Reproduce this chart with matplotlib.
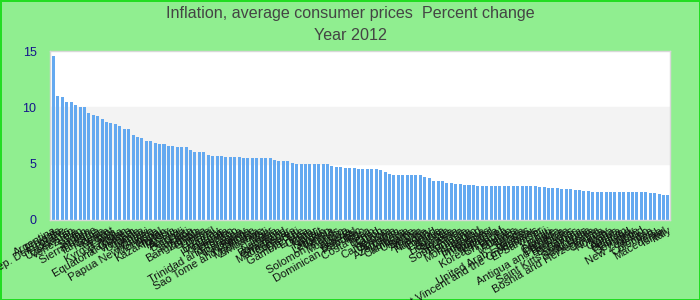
import numpy as np
import matplotlib
matplotlib.use("Agg")
import matplotlib.pyplot as plt

plt.rcParams['font.family'] = ['Liberation Sans', 'DejaVu Sans']

# datos (ordenados de mayor a menor)
paises = [
    "Argentina", "Ethiopia", "Congo, Rep. Dem. of the", "Belarus", "Uzbekistan",
    "Venezuela", "Iran", "Sudan", "Yemen", "Sierra Leone",
    "Tanzania", "Nigeria", "Kenya", "Egypt", "Kyrgyz Rep.",
    "India", "Pakistan", "Equatorial Guinea", "Vietnam", "Uganda",
    "Ghana", "Malawi", "Papua New Guinea", "Mongolia", "Nepal",
    "Kazakhstan", "Turkey", "Russia", "Angola", "Burundi",
    "Haiti", "Jamaica", "Bangladesh", "Zambia", "Guinea",
    "Liberia", "Brazil", "Uruguay", "Honduras", "Rwanda",
    "Lesotho", "Trinidad and Tobago", "Nicaragua", "Paraguay", "Bolivia",
    "Sao Tome and Principe", "Mauritania", "Zimbabwe", "Mali", "Niger",
    "Namibia", "Botswana", "Swaziland", "Madagascar", "Comoros",
    "Djibouti", "Gambia, The", "Eritrea", "Oman", "Qatar",
    "Kuwait", "Jordan", "Lebanon", "Tunisia", "Solomon Islands",
    "Morocco", "Libya", "Algeria", "Senegal", "Dominican Republic",
    "Togo", "Costa Rica", "Benin", "Chad", "Gabon",
    "Cameroon", "Georgia", "Armenia", "Azerbaijan", "Moldova",
    "Cambodia", "Ukraine", "Serbia", "Albania", "Croatia",
    "Hungary", "Poland", "Estonia", "Latvia", "Lithuania",
    "Slovakia", "Slovenia", "South Africa", "Romania", "Bulgaria",
    "Montenegro", "Iceland", "Indonesia", "Philippines", "Thailand",
    "Malaysia", "Korea, Rep. of", "Sri Lanka", "Bhutan", "Maldives",
    "Tonga", "Samoa", "United Arab Emirates", "Vanuatu", "Saint Vincent and the Grenadines",
    "El Salvador", "Fiji", "Kiribati", "Belize", "Grenada",
    "Dominica", "Antigua and Barbuda", "Barbados", "Bahamas", "Guyana",
    "Saint Kitts and Nevis", "Saint Lucia", "Australia", "Bosnia and Herzegovina", "Canada",
    "Norway", "Malta", "Cyprus", "Austria", "Belgium",
    "Finland", "Germany", "Chile", "New Zealand", "Mexico",
    "Colombia", "Peru", "Macedonia", "Israel", "Italy",
]

inflacion = [
    14.54, 11.04, 10.95, 10.50, 10.50, 10.24, 10.06, 10.06, 9.53, 9.35,
    9.26, 8.99, 8.72, 8.64, 8.55, 8.37, 8.10, 8.10, 7.57, 7.39,
    7.30, 7.03, 7.03, 6.85, 6.77, 6.77, 6.59, 6.59, 6.50, 6.50,
    6.50, 6.23, 6.05, 6.05, 6.05, 5.79, 5.70, 5.70, 5.70, 5.61,
    5.61, 5.61, 5.61, 5.52, 5.52, 5.52, 5.52, 5.52, 5.52, 5.52,
    5.34, 5.25, 5.25, 5.25, 5.07, 4.99, 4.99, 4.99, 4.99, 4.99,
    4.99, 4.99, 4.99, 4.81, 4.72, 4.72, 4.63, 4.63, 4.63, 4.54,
    4.54, 4.54, 4.54, 4.54, 4.45, 4.27, 4.09, 4.01, 4.01, 4.01,
    4.01, 4.01, 4.01, 4.01, 3.83, 3.74, 3.47, 3.47, 3.47, 3.29,
    3.29, 3.20, 3.20, 3.12, 3.12, 3.12, 3.03, 3.03, 3.03, 3.03,
    3.03, 3.03, 3.03, 3.03, 3.03, 3.03, 3.03, 3.03, 3.03, 3.03,
    2.94, 2.94, 2.85, 2.85, 2.85, 2.76, 2.76, 2.76, 2.67, 2.67,
    2.58, 2.58, 2.49, 2.49, 2.49, 2.49, 2.49, 2.49, 2.49, 2.49,
    2.49, 2.49, 2.49, 2.49, 2.49, 2.40, 2.40, 2.31, 2.23, 2.23,
]

titulo = "Inflation, average consumer prices  Percent change"
subtitulo = "Year 2012"
yticks = [0, 5, 10, 15]

fig = plt.figure(figsize=(7, 3), dpi=100, facecolor="#90ee90",
                 edgecolor="#22dd22", linewidth=2)
ax = fig.add_axes([0.072, 0.267, 0.885, 0.563])
ax.set_facecolor("white")

x = np.arange(len(inflacion))
ax.axhspan(5, 10, color="#f3f3f3", zorder=0)  # banda gris entre 5 y 10
ax.bar(x, inflacion, width=0.68, color="#64a9f0", zorder=2)

ax.set_xlim(-0.7, len(inflacion) - 0.55)
ax.set_ylim(0, 15)
ax.set_yticks(yticks)
ax.set_yticklabels([str(t) for t in yticks], color="#14148c", fontsize=9)
ax.tick_params(axis="y", length=0, pad=10)

ax.set_xticks(x)
ax.set_xticklabels(paises, rotation=30, ha="right", rotation_mode="anchor",
                   fontsize=8, color="#111111")
ax.tick_params(axis="x", length=0, pad=4)

for s in ax.spines.values():
    s.set_color("#d8d8d8")
    s.set_linewidth(1)

fig.text(0.5, 0.955, titulo, ha="center", va="center", fontsize=11.6, color="#444444")
fig.text(0.5, 0.88, subtitulo, ha="center", va="center", fontsize=11.6, color="#444444")

fig.savefig("out.png", dpi=100, facecolor=fig.get_facecolor(), edgecolor=fig.get_edgecolor())
